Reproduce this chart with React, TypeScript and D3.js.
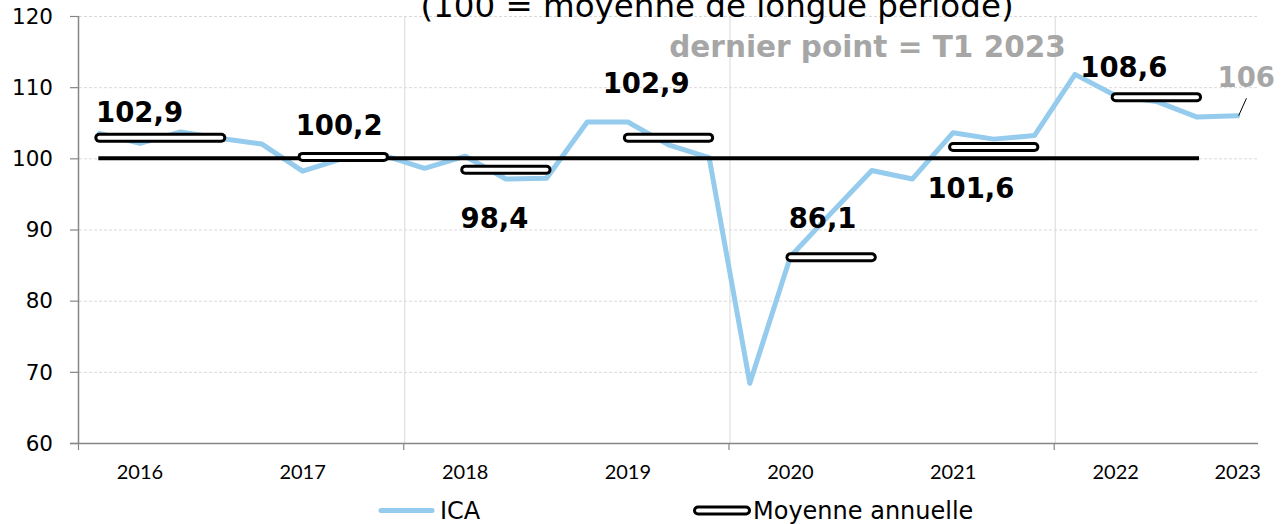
import React from "react";
import * as d3 from "d3";

// ---------- DATA ----------
const CATEGORIES = [
  "T4 2015",
  "T1 2016", "T2 2016", "T3 2016", "T4 2016",
  "T1 2017", "T2 2017", "T3 2017", "T4 2017",
  "T1 2018", "T2 2018", "T3 2018", "T4 2018",
  "T1 2019", "T2 2019", "T3 2019", "T4 2019",
  "T1 2020", "T2 2020", "T3 2020", "T4 2020",
  "T1 2021", "T2 2021", "T3 2021", "T4 2021",
  "T1 2022", "T2 2022", "T3 2022", "T4 2022",
];
// display labels under the axis (index-aligned with CATEGORIES)
const TICK_LABELS = [
  "", "2016", "", "", "", "2017", "", "", "", "2018", "", "", "", "2019", "", "", "",
  "2020", "", "", "", "2021", "", "", "", "2022", "", "", "2023",
];
const ICA = [
  103.5, 102.1, 103.7, 102.8, 102.0, 98.2, 100.0, 100.4, 98.6, 100.3, 97.1, 97.2,
  105.1, 105.1, 101.9, 100.1, 68.4, 86.2, 92.3, 98.3, 97.1, 103.6, 102.7, 103.2,
  111.8, 108.8, 108.0, 105.8, 106.0,
];
const AVG_YEARS = ["2016", "2017", "2018", "2019", "2020", "2021", "2022"];
const AVG_VALUES = [102.9, 100.2, 98.4, 102.9, 86.1, 101.6, 108.6];
const AVG_FROM = ["T4 2015", "T1 2017", "T1 2018", "T1 2019", "T1 2020", "T1 2021", "T1 2022"];
const AVG_TO = ["T3 2016", "T3 2017", "T3 2018", "T3 2019", "T3 2020", "T3 2021", "T3 2022"];
const AVG_LABELS = ["102,9", "100,2", "98,4", "102,9", "86,1", "101,6", "108,6"];
const REFERENCE = 100;
const REF_FROM = "T4 2015";
const REF_TO = "T3 2022";
const Y_TICKS = [60, 70, 80, 90, 100, 110, 120];
const LAST_LABEL = "106";
const TITLE = "(100 = moyenne de longue période)";
const NOTE = "dernier point = T1 2023";
const LEGEND_ICA = "ICA";
const LEGEND_AVG = "Moyenne annuelle";

// ---------- LAYOUT (label nudges: category units, px) ----------
const LABEL_DX = [0.99, 0.9, 0.72, 0.45, 0.79, 0.44, 0.2];
const LABEL_DY = [-15.6, -22.4, 58.6, -45, -29.3, 51.1, -20.4];

const W = 1281;
const H = 524;
const BLUE = "#95CBEC";
const GREY_TXT = "#A6A6A6";
const AXIS = "#868686";
const GRID = "#D9D9D9";

export default function App() {
  const x = d3.scaleBand<string>().domain(CATEGORIES).range([79, 1258]).padding(0);
  const bw = x.bandwidth();
  const cx = (c: string) => (x(c) as number) + bw / 2;
  const y = d3.scaleLinear().domain([60, 120]).range([443, 16]);
  const x0 = x.range()[0];
  const x1 = x.range()[1];

  const line = d3
    .line<number>()
    .x((_, i) => cx(CATEGORIES[i]))
    .y((d) => y(d));

  const sepIdx = [8, 16, 24];
  const tickIdx = [0, 8, 16, 24];
  const last = CATEGORIES.length - 1;
  const lastX = cx(CATEGORIES[last]);
  const lastY = y(ICA[last]);

  return (
    <svg
      width={W}
      height={H}
      style={{ position: "absolute", left: 0, top: 0, background: "#fff" }}
      fontFamily="DejaVu Sans, Verdana, sans-serif"
    >
      <rect x={0} y={0} width={W} height={H} fill="#fff" />
      {/* horizontal gridlines */}
      {Y_TICKS.filter((t) => t !== 60).map((t) => (
        <line key={"g" + t} x1={x0} x2={x1} y1={y(t) + 0.5} y2={y(t) + 0.5} stroke={GRID} strokeDasharray="3,2" />
      ))}
      {/* vertical separators */}
      {sepIdx.map((i) => (
        <line key={"v" + i} x1={(x(CATEGORIES[i]) as number) + 0.5} x2={(x(CATEGORIES[i]) as number) + 0.5} y1={y(120)} y2={y(60)} stroke={GRID} />
      ))}
      {/* axes */}
      <line x1={x0 - 0.5} x2={x0 - 0.5} y1={y(120)} y2={y(60)} stroke={AXIS} strokeWidth={1.5} />
      <line x1={70} x2={x1} y1={y(60) + 0.5} y2={y(60) + 0.5} stroke={AXIS} strokeWidth={1.5} />
      {Y_TICKS.map((t) => (
        <g key={"yt" + t}>
          <line x1={70} x2={x0} y1={y(t) + 0.5} y2={y(t) + 0.5} stroke={AXIS} strokeWidth={1.2} />
          <text x={53} y={y(t)} dy="0.36em" textAnchor="end" fontSize={21.5} fill="#000">
            {t}
          </text>
        </g>
      ))}
      {tickIdx.map((i) => (
        <line key={"xt" + i} x1={(x(CATEGORIES[i]) as number) - 0.5} x2={(x(CATEGORIES[i]) as number) - 0.5} y1={y(60)} y2={y(60) + 7} stroke={AXIS} strokeWidth={1.2} />
      ))}
      {TICK_LABELS.map((l, i) =>
        l ? (
          <text key={"xl" + i} x={cx(CATEGORIES[i])} y={479} textAnchor="middle" fontSize={20} fontFamily="Lato, Liberation Sans, sans-serif" fill="#000">
            {l}
          </text>
        ) : null
      )}

      {/* ICA line */}
      <path d={line(ICA) as string} fill="none" stroke={BLUE} strokeWidth={5} strokeLinejoin="round" strokeLinecap="round" />

      {/* reference line */}
      <line x1={cx(REF_FROM) - 1} x2={cx(REF_TO) + 2} y1={y(REFERENCE)} y2={y(REFERENCE)} stroke="#000" strokeWidth={4} />

      {/* annual averages */}
      {AVG_YEARS.map((yr, k) => (
        <g key={"a" + yr}>
          <line x1={cx(AVG_FROM[k])} x2={cx(AVG_TO[k])} y1={y(AVG_VALUES[k])} y2={y(AVG_VALUES[k])} stroke="#000" strokeWidth={10} strokeLinecap="round" />
          <line x1={cx(AVG_FROM[k])} x2={cx(AVG_TO[k])} y1={y(AVG_VALUES[k])} y2={y(AVG_VALUES[k])} stroke="#fff" strokeWidth={4} strokeLinecap="round" />
          <text
            x={x0 + bw / 2 + (CATEGORIES.indexOf(AVG_FROM[k]) + LABEL_DX[k]) * bw}
            y={y(AVG_VALUES[k]) + LABEL_DY[k]}
            textAnchor="middle"
            fontSize={27.5}
            fontWeight="bold"
            fill="#000"
          >
            {AVG_LABELS[k]}
          </text>
        </g>
      ))}

      {/* last point label */}
      <line x1={lastX + 8.8} y1={lastY - 17.4} x2={lastX + 1} y2={lastY} stroke="#000" strokeWidth={1} />
      <text x={lastX + 8.6} y={lastY - 28.4} textAnchor="middle" fontSize={27.5} fontWeight="bold" fill={GREY_TXT}>
        {LAST_LABEL}
      </text>

      {/* title & note */}
      <text x={717} y={17} textAnchor="middle" fontSize={32.5} fill="#000">
        {TITLE}
      </text>
      <text x={867.5} y={57} textAnchor="middle" fontSize={29.5} fontWeight="bold" fill={GREY_TXT}>
        {NOTE}
      </text>

      {/* legend */}
      <line x1={381} x2={432} y1={510.5} y2={510.5} stroke={BLUE} strokeWidth={5} strokeLinecap="round" />
      <text x={440} y={518.5} fontSize={24} fill="#000">
        {LEGEND_ICA}
      </text>
      <line x1={698} x2={746} y1={510.5} y2={510.5} stroke="#000" strokeWidth={10} strokeLinecap="round" />
      <line x1={698} x2={746} y1={510.5} y2={510.5} stroke="#fff" strokeWidth={4} strokeLinecap="round" />
      <text x={753} y={518.5} fontSize={24} fill="#000">
        {LEGEND_AVG}
      </text>
    </svg>
  );
}
